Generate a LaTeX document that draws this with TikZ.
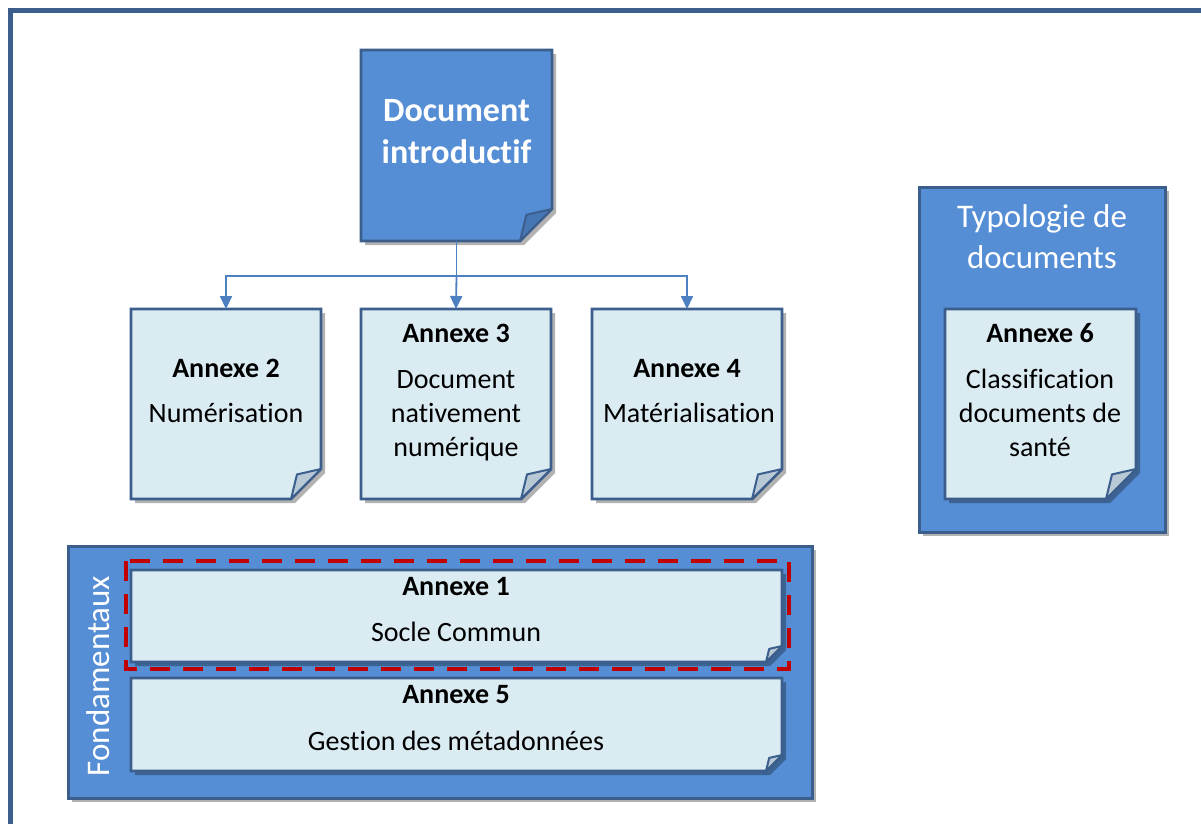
\documentclass[tikz,border=0pt]{standalone}
\usepackage{fontspec}
\setmainfont{Carlito}[RawFeature={-liga;-clig;-calt;-dlig}]
\usetikzlibrary{shadows,arrows.meta,calc}
\definecolor{bfill}{HTML}{558ED5}
\definecolor{bdark}{HTML}{3B5E8C}
\definecolor{lfill}{HTML}{DAEBF2}
\definecolor{lfold}{HTML}{B8C8D4}
\definecolor{dfold}{HTML}{4676B4}
\definecolor{dred}{HTML}{C00000}
\tikzset{
  frame/.style={draw=none, fill=none, inner sep=0pt, outer sep=0pt, rectangle},
  pageline/.style={draw=bdark, line width=2.8pt, line join=miter},
  softshadow/.style={drop shadow={shadow xshift=4pt, shadow yshift=-4pt, opacity=0.3, fill=black}},
  groupbox/.style={draw=bdark, fill=bfill, line width=3pt, inner sep=0pt, outer sep=0pt, softshadow},
  conn/.style={draw=bfill!90!black, line width=1.8pt},
  arr/.style={conn, -{Triangle[width=12pt,length=13pt]}},
  lab/.style={font=\fontsize{28}{34}\selectfont, anchor=base, inner sep=0pt, text=black},
  labb/.style={lab, font=\fontsize{28}{34}\selectfont\bfseries},
  title/.style={font=\fontsize{34}{42}\selectfont\bfseries, anchor=base, inner sep=0pt, text=white},
  grouplab/.style={font=\fontsize{33}{41}\selectfont, anchor=base, inner sep=0pt, text=white},
  redbox/.style={draw=dred, line width=4pt, dash pattern=on 20pt off 13pt}
}
% name, x1, y1, x2, y2, fold, fill, foldfill
\newcommand\pagebox[8]{%
  \node[frame, minimum width={(#4-#2)*1pt}, minimum height={(#5-#3)*1pt}] (#1) at ({(#2+#4)/2},{(#3+#5)/2}) {};
  \draw[pageline, fill=#7, softshadow] (#1.north west) -- (#1.north east) -- ([yshift=#6pt]#1.south east)
     -- ([xshift=-#6pt]#1.south east) -- (#1.south west) -- cycle;
  \draw[pageline, fill=#8, line width=2pt, line join=round] ([yshift=#6pt]#1.south east)
     -- ([xshift={-0.8*#6 pt}, yshift={0.82*#6 pt}]#1.south east) -- ([xshift=-#6pt]#1.south east) -- cycle;
}
\begin{document}
\begin{tikzpicture}[x=1pt,y=-1pt]
\useasboundingbox (0,0) rectangle (1201,823);
\clip (0,0) rectangle (1201,823);
\fill[white] (0,0) rectangle (1201,823);
% outer frame
\draw[draw=bdark, line width=5pt] (10.5,900) -- (10.5,10.5) -- (1300,10.5);

% group boxes
\node[groupbox, minimum width=744pt, minimum height=252pt] (fond) at (440,672) {};
\node[groupbox, minimum width=246pt, minimum height=345pt] (typo) at (1042,359.5) {};

% pages
\pagebox{doc}{361}{50}{552}{241}{32}{bfill}{dfold}
\pagebox{a2}{131}{309}{321}{499}{30}{lfill}{lfold}
\pagebox{a3}{361}{309}{551}{499}{30}{lfill}{lfold}
\pagebox{a4}{592}{309}{782}{499}{30}{lfill}{lfold}
\pagebox{a6}{945}{309}{1136}{499}{30}{lfill}{lfold}
\pagebox{a1}{131}{570}{782}{662}{16}{lfill}{lfold}
\pagebox{a5}{131}{678}{782}{771}{16}{lfill}{lfold}

% red dashed highlight
\node[frame, minimum width=663pt, minimum height=108pt] (hl) at (457.5,615) {};
\draw[redbox] (hl.north west) rectangle (hl.south east);

% connectors
\coordinate (bus) at (456.5,276);
\draw[conn] (doc.south) -- (bus);
\draw[arr] (bus) -| (a2.north);
\draw[arr] (bus) -- (a3.north);
\draw[arr] (bus) -| (a4.north);

% texts
\node[title] (t1) at (456.5,121) {Document};
\node[title] (t2) at (456.5,163) {introductif};

\node[labb] (a2t) at (226,377) {Annexe 2};
\node[lab] (a2s) at (226,422) {Numérisation};

\node[labb] (a3t) at (456,342) {Annexe 3};
\node[lab] (a3s) at (456,388) {Document};
\node[lab] (a3u) at (456,422) {nativement};
\node[lab] (a3v) at (456,456) {numérique};

\node[labb] (a4t) at (687,377) {Annexe 4};
\node[lab] (a4s) at (689,422) {Matérialisation};

\node[grouplab] (g1) at (1042,227) {Typologie de};
\node[grouplab] (g2) at (1042,268) {documents};

\node[labb] (a6t) at (1040,342) {Annexe 6};
\node[lab] (a6s) at (1040,388) {Classification};
\node[lab] (a6u) at (1040,422) {documents de};
\node[lab] (a6v) at (1040,456) {santé};

\node[labb] (a1t) at (456,595) {Annexe 1};
\node[lab] (a1s) at (456,641) {Socle Commun};

\node[labb] (a5t) at (456,703) {Annexe 5};
\node[lab] (a5s) at (456,750) {Gestion des métadonnées};

\node[font=\fontsize{33}{41}\selectfont, text=white, rotate=90, inner sep=0pt] (fl) at (98,676) {Fondamentaux};
\end{tikzpicture}
\end{document}
